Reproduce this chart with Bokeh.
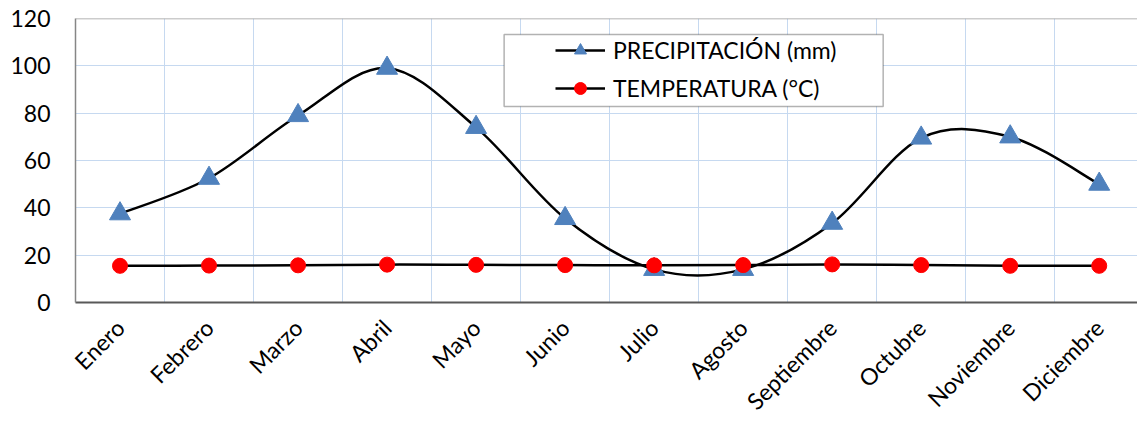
import math
from bokeh.plotting import figure
from bokeh.models import (Range1d, FixedTicker, Legend, LegendItem, Span,
                          BoxAnnotation, ColumnDataSource)
from bokeh.embed import file_html
from bokeh.resources import INLINE

months = ["Enero", "Febrero", "Marzo", "Abril", "Mayo", "Junio", "Julio",
          "Agosto", "Septiembre", "Octubre", "Noviembre", "Diciembre"]
precipitacion = [37.5, 52.5, 79, 99, 74, 35.5, 14, 14, 33.5, 69.5, 70, 50]
temperatura = [15.5, 15.6, 15.7, 16.0, 15.9, 15.8, 15.7, 15.8, 16.1, 15.8, 15.5, 15.5]
y_ticks = [0, 20, 40, 60, 80, 100, 120]

FONT = "Lato"
FS = "23px"
GRID = "#c6d9f0"

xs = [i + 0.5 for i in range(len(months))]


def smooth_segments(xv, yv):
    n = len(xv)
    seg = dict(x0=[], y0=[], x1=[], y1=[], cx0=[], cy0=[], cx1=[], cy1=[])
    for i in range(n - 1):
        ip = max(i - 1, 0)
        inx = min(i + 2, n - 1)
        seg["x0"].append(xv[i]); seg["y0"].append(yv[i])
        seg["x1"].append(xv[i + 1]); seg["y1"].append(yv[i + 1])
        seg["cx0"].append(xv[i] + (xv[i + 1] - xv[ip]) / 6)
        seg["cy0"].append(yv[i] + (yv[i + 1] - yv[ip]) / 6)
        seg["cx1"].append(xv[i + 1] - (xv[inx] - xv[i]) / 6)
        seg["cy1"].append(yv[i + 1] - (yv[inx] - yv[i]) / 6)
    return ColumnDataSource(seg)


p = figure(width=1137, height=427, x_range=Range1d(0, 11.93),
           y_range=Range1d(0, 120), output_backend="svg",
           toolbar_location=None, min_border_left=75, min_border_right=0,
           min_border_top=18, min_border_bottom=125)
p.outline_line_color = None
p.background_fill_color = "white"

# axes
p.xaxis.ticker = FixedTicker(ticks=xs)
p.xaxis.major_label_overrides = {x: m for x, m in zip(xs, months)}
p.xaxis.major_label_orientation = math.pi / 4
p.xaxis.major_tick_line_color = None
p.xaxis.major_tick_out = 0
p.xaxis.major_tick_in = 0
p.xaxis.minor_tick_line_color = None
p.xaxis.minor_tick_out = 0
p.xaxis.axis_label_standoff = 0
p.xaxis.axis_line_color = "#595959"
p.xaxis.axis_line_width = 2
p.xaxis.major_label_text_font = FONT
p.xaxis.major_label_text_font_size = FS
p.xaxis.major_label_text_color = "black"
p.xaxis.major_label_standoff = 21

p.yaxis.ticker = FixedTicker(ticks=y_ticks)
p.yaxis.major_tick_line_color = None
p.yaxis.major_tick_out = 0
p.yaxis.major_tick_in = 0
p.yaxis.minor_tick_line_color = None
p.yaxis.axis_line_color = "#868686"
p.yaxis.axis_line_width = 1.5
p.yaxis.major_label_text_font = FONT
p.yaxis.major_label_text_font_size = FS
p.yaxis.major_label_text_color = "black"
p.yaxis.major_label_standoff = 25

p.xgrid.ticker = FixedTicker(ticks=list(range(1, 12)))
p.xgrid.grid_line_color = GRID
p.ygrid.grid_line_color = GRID

p.add_layout(Span(location=120, dimension="width", line_color="#9a9a9a",
                  line_width=1.5))

# series
prec_src = smooth_segments(xs, precipitacion)
temp_src = smooth_segments(xs, temperatura)

prec_line = p.bezier(x0="x0", y0="y0", x1="x1", y1="y1", cx0="cx0", cy0="cy0",
                     cx1="cx1", cy1="cy1", source=prec_src, line_color="black",
                     line_width=2.5)
prec_mk = p.scatter(xs, precipitacion, marker="triangle", size=21,
                    fill_color="#4f81bd", line_color="#4f81bd")
temp_line = p.bezier(x0="x0", y0="y0", x1="x1", y1="y1", cx0="cx0", cy0="cy0",
                     cx1="cx1", cy1="cy1", source=temp_src, line_color="black",
                     line_width=2.5)
temp_mk = p.scatter(xs, temperatura, marker="circle", size=15,
                    fill_color="#ff0000", line_color="#ff0000")

# legend
box = BoxAnnotation(left=4.815, right=9.073, top=113.2, bottom=82.8,
                    fill_color="white", fill_alpha=1.0, line_color="black",
                    line_width=1.5)
p.add_layout(box)

legend = Legend(items=[
    LegendItem(label="PRECIPITACIÓN (mm)", renderers=[prec_line, prec_mk]),
    LegendItem(label="TEMPERATURA (°C)", renderers=[temp_line, temp_mk]),
], location=(480, 199), padding=0, spacing=8, label_height=30,
    glyph_height=30, glyph_width=50, label_standoff=8,
    border_line_color=None, background_fill_color=None,
    label_text_font=FONT, label_text_font_size=FS, label_text_color="black")
p.add_layout(legend)

open("out.html", "w").write(file_html(p, INLINE))
